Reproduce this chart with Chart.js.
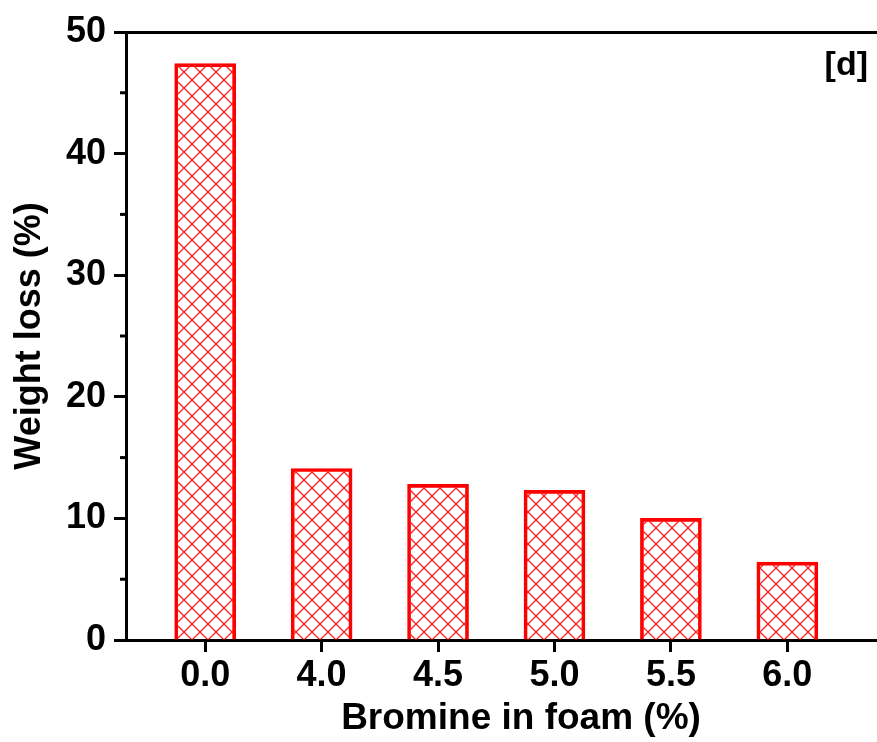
<!DOCTYPE html>
<html>
<head>
<meta charset="utf-8">
<script src="https://cdn.jsdelivr.net/npm/chart.js@4/dist/chart.umd.min.js"></script>
<style>
  html, body { margin: 0; padding: 0; background: #fff; }
  #wrap { width: 877px; height: 742px; }
</style>
</head>
<body>
<div id="wrap"><canvas id="lossChart" width="877" height="742"></canvas></div>
<script>
// data
const categories = ['0.0', '4.0', '4.5', '5.0', '5.5', '6.0'];
const weightLoss = [47.4, 14.1, 12.8, 12.3, 10.0, 6.4];
const yTicks = [0, 10, 20, 30, 40, 50];
const yMinorTicks = [5, 15, 25, 35, 45];

const FONT = "'Liberation Sans', Arial, sans-serif";

// red cross-hatch fill
function makeHatch() {
    const c = document.createElement('canvas');
    c.width = 16; c.height = 16;
    const g = c.getContext('2d');
    g.strokeStyle = '#ff2020';
    g.lineWidth = 1.3;
    for (const k of [-16, 0, 16]) {
        g.beginPath();
        g.moveTo(k, 0); g.lineTo(k + 16, 16);
        g.moveTo(k + 16, 0); g.lineTo(k, 16);
        g.stroke();
    }
    return g.createPattern(c, 'repeat');
}

const extras = {
    id: 'extras',
    afterDraw(chart) {
        const ctx = chart.ctx;
        const y = chart.scales.y;
        const area = chart.chartArea;
        ctx.save();
        // minor ticks on the y axis
        ctx.strokeStyle = '#000';
        ctx.lineWidth = 3;
        yMinorTicks.forEach(v => {
            const py = y.getPixelForValue(v);
            ctx.beginPath();
            ctx.moveTo(area.left - 6, py);
            ctx.lineTo(area.left, py);
            ctx.stroke();
        });
        ctx.fillStyle = '#000';
        // x axis title (sits a little right of centre in the original)
        ctx.font = 'bold 37px ' + FONT;
        ctx.textAlign = 'center';
        ctx.textBaseline = 'alphabetic';
        ctx.fillText('Bromine in foam (%)', area.left + 395, area.bottom + 89);
        // panel label
        ctx.font = 'bold 34px ' + FONT;
        ctx.textAlign = 'right';
        ctx.fillText('[d]', area.right - 9, area.top + 43);
        ctx.restore();
    }
};

const ctx = document.getElementById('lossChart').getContext('2d');
const chart = new Chart(ctx, {
    type: 'bar',
    data: {
        datasets: [{
            label: 'Weight loss',
            data: categories.map((c, i) => ({ x: i, y: weightLoss[i] })),
            backgroundColor: makeHatch(),
            borderColor: '#ff0000',
            borderWidth: 3,
            barThickness: 61
        }]
    },
    options: {
        responsive: false,
        animation: false,
        layout: { padding: 0 },
        plugins: {
            legend: { display: false },
            tooltip: { enabled: false }
        },
        scales: {
            x: {
                type: 'linear',
                min: -0.68,
                max: 5.77,
                offset: false,
                afterBuildTicks: scale => {
                    scale.ticks = categories.map((c, i) => ({ value: i }));
                },
                afterFit: scale => { scale.height = 102; },
                ticks: {
                    callback: v => categories[v],
                    color: '#000',
                    font: { family: FONT, size: 36, weight: 'bold' },
                    padding: 2,
                    maxRotation: 0
                },
                grid: { offset: false, drawOnChartArea: false, tickLength: 12, tickWidth: 3, tickColor: '#000' },
                border: { color: '#000', width: 3 }
            },
            xTop: {
                type: 'linear',
                position: 'top',
                min: -0.68,
                max: 5.77,
                offset: false,
                afterFit: scale => { scale.height = 32; },
                ticks: { display: false },
                grid: { display: false },
                border: { color: '#000', width: 3 }
            },
            y: {
                min: 0,
                max: 50,
                afterBuildTicks: scale => {
                    scale.ticks = yTicks.map(v => ({ value: v }));
                },
                afterFit: scale => { scale.width = 126; },
                ticks: {
                    color: '#000',
                    font: { family: FONT, size: 36, weight: 'bold' },
                    padding: 8
                },
                grid: { drawOnChartArea: false, tickLength: 12, tickWidth: 3, tickColor: '#000' },
                border: { color: '#000', width: 3 },
                title: {
                    display: true,
                    text: 'Weight loss (%)',
                    color: '#000',
                    font: { family: FONT, size: 36, weight: 'bold' },
                    padding: { top: 8, bottom: 0 }
                }
            }
        }
    },
    plugins: [extras]
});
</script>
</body>
</html>
